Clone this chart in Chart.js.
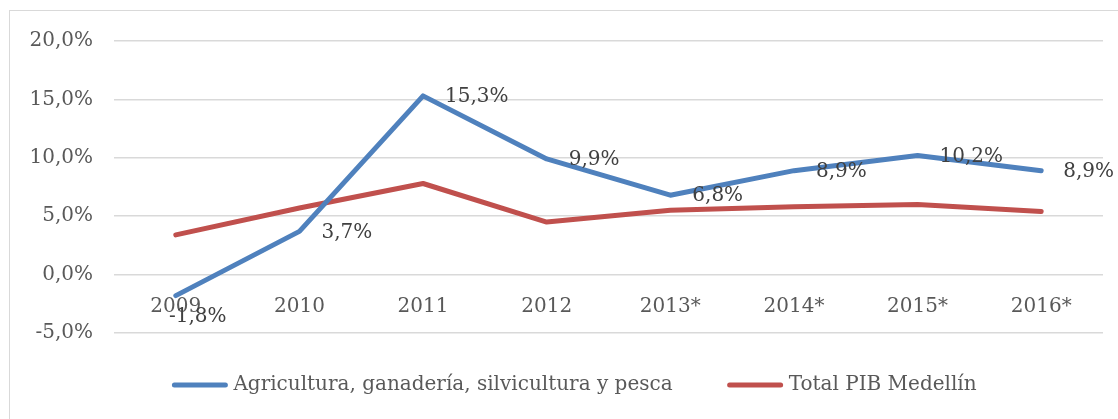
<!DOCTYPE html>
<html>
<head>
<meta charset="utf-8">
<script src="https://cdn.jsdelivr.net/npm/chart.js@4/dist/chart.umd.min.js"></script>
<style>
  html, body { margin: 0; padding: 0; background: #ffffff; overflow: hidden; width: 1118px; height: 419px; }
  #frame { position: absolute; left: 9px; top: 10px; width: 1200px; height: 500px;
           border-left: 1.5px solid #d9d9d9; border-top: 1.5px solid #d9d9d9; box-sizing: border-box; }
  #c { position: absolute; left: 0; top: 0; }
</style>
</head>
<body>
<div id="frame"></div>
<canvas id="c" width="1149" height="419"></canvas>
<script>
const categories = ['2009', '2010', '2011', '2012', '2013*', '2014*', '2015*', '2016*'];
const agriculturaValues = [-1.8, 3.7, 15.3, 9.9, 6.8, 8.9, 10.2, 8.9];
const totalPibValues = [3.4, 5.7, 7.8, 4.5, 5.5, 5.8, 6.0, 5.4];
const seriesNames = ['Agricultura, ganadería, silvicultura y pesca', 'Total PIB Medellín'];
const yTickMin = -5, yTickMax = 20, yTickStep = 5;
const agriLabelPositions = ['below', 'right', 'right', 'right', 'right', 'right', 'right', 'right'];

const FONT = 'DejaVu Serif';
const fmt = v => v.toFixed(1).replace('.', ',') + '%';

const dataLabelPlugin = {
  id: 'dataLabels',
  afterDatasetsDraw(chart) {
    const ctx = chart.ctx;
    const meta = chart.getDatasetMeta(0);
    ctx.save();
    ctx.font = '20px "' + FONT + '"';
    ctx.fillStyle = '#404040';
    ctx.textBaseline = 'middle';
    meta.data.forEach((pt, i) => {
      const v = chart.data.datasets[0].data[i];
      const pos = agriLabelPositions[i];
      if (pos === 'below') {
        ctx.textAlign = 'center';
        ctx.fillText(fmt(v), pt.x + 22, pt.y + 21);
      } else {
        ctx.textAlign = 'left';
        ctx.fillText(fmt(v), pt.x + 22, pt.y + 1);
      }
    });
    ctx.restore();
  }
};

const customLegendPlugin = {
  id: 'customLegend',
  afterDraw(chart) {
    const ctx = chart.ctx;
    const swatch = 55, textGap = 6, itemGap = 55, y = 385;
    ctx.save();
    ctx.font = '20px "' + FONT + '"';
    const items = chart.data.datasets.map(ds => ({ text: ds.label, color: ds.borderColor, w: ctx.measureText(ds.label).width }));
    let total = 0;
    items.forEach((it, i) => { total += swatch + textGap + it.w + (i < items.length - 1 ? itemGap : 0); });
    let x = chart.width / 2 - total / 2;
    items.forEach(it => {
      ctx.strokeStyle = it.color;
      ctx.lineWidth = 5;
      ctx.lineCap = 'round';
      ctx.beginPath();
      ctx.moveTo(x + 2, y);
      ctx.lineTo(x + swatch - 2, y);
      ctx.stroke();
      x += swatch + textGap;
      ctx.fillStyle = '#595959';
      ctx.textAlign = 'left';
      ctx.textBaseline = 'middle';
      ctx.fillText(it.text, x, y);
      x += it.w + itemGap;
    });
    ctx.restore();
  }
};

new Chart(document.getElementById('c'), {
  type: 'line',
  data: {
    labels: categories,
    datasets: [
      { label: seriesNames[0], data: agriculturaValues, borderColor: '#4f81bd', backgroundColor: '#4f81bd',
        borderWidth: 5, pointRadius: 0, tension: 0, borderCapStyle: 'round', borderJoinStyle: 'round' },
      { label: seriesNames[1], data: totalPibValues, borderColor: '#c0504d', backgroundColor: '#c0504d',
        borderWidth: 5, pointRadius: 0, tension: 0, borderCapStyle: 'round', borderJoinStyle: 'round' }
    ]
  },
  options: {
    responsive: false,
    animation: false,
    devicePixelRatio: 1,
    layout: { padding: { left: 0, right: 46, top: 41, bottom: 86 } },
    plugins: {
      tooltip: { enabled: false },
      legend: { display: false }
    },
    scales: {
      x: {
        position: { y: 0 },
        offset: true,
        grid: { display: false },
        border: { display: false },
        ticks: { font: { family: FONT, size: 20 }, color: '#595959', padding: 12, maxRotation: 0 }
      },
      y: {
        min: yTickMin, max: yTickMax,
        grid: { color: '#d9d9d9', lineWidth: 1.5, drawTicks: false },
        border: { display: false },
        ticks: { stepSize: yTickStep, font: { family: FONT, size: 20 }, color: '#595959', padding: 21,
                 callback: v => fmt(v) },
        afterFit(scale) { scale.width = 114; }
      }
    }
  },
  plugins: [dataLabelPlugin, customLegendPlugin]
});
</script>
</body>
</html>
